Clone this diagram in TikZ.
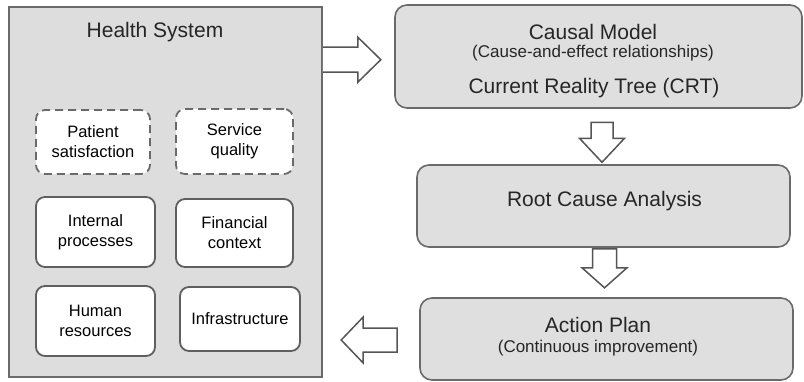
\documentclass[tikz,border=0pt]{standalone}
\usepackage{fontspec}
\setmainfont{Liberation Sans}
\usetikzlibrary{calc}
\definecolor{edgegray}{HTML}{6A6A6A}
\definecolor{bigfill}{HTML}{DDDDDD}
\definecolor{boxfill}{HTML}{DFDFDF}
\definecolor{arrowgray}{HTML}{555555}
\tikzset{
  bigbox/.style={draw=edgegray, line width=1.6pt, fill=bigfill, rectangle, inner sep=0pt},
  stagebox/.style={draw=edgegray, line width=1.6pt, fill=boxfill, rectangle, rounded corners=12pt, inner sep=0pt},
  itembox/.style={draw=edgegray!90!black, line width=1.8pt, fill=white, rectangle, rounded corners=9pt, inner sep=0pt, align=center, font=\fontsize{16.5}{20}\selectfont},
  dashbox/.style={itembox, dashed, dash pattern=on 8pt off 5pt, draw=edgegray},
  bigtext/.style={font=\fontsize{21}{24}\selectfont, inner sep=0pt, text=black!85},
  smalltext/.style={font=\fontsize{17}{20}\selectfont, inner sep=0pt, text=black!85},
  blockarrow/.style={draw=arrowgray, line width=1.5pt, fill=white, line join=miter}
}
\begin{document}
\begin{tikzpicture}[x=1pt,y=-1pt]
\useasboundingbox[fill=white] (0,0) rectangle (804,381);
% Health system
\node[bigbox, minimum width=313pt, minimum height=370pt] (hs) at (165.5,192) {};
\node[bigtext] (hst) at (155,32) {Health System};
\node[dashbox, minimum width=114pt, minimum height=64pt] (ps) at (93,142) {Patient\\satisfaction};
\node[dashbox, minimum width=117pt, minimum height=65pt] (sq) at (234.5,141.5) {Service\\quality};
\node[itembox, minimum width=119pt, minimum height=70pt] (ip) at (95.5,232) {Internal\\processes};
\node[itembox, minimum width=117pt, minimum height=68pt] (fc) at (234.5,233) {Financial\\context};
\node[itembox, minimum width=119pt, minimum height=70pt] (hr) at (95.5,321) {Human\\resources};
\node[itembox, minimum width=120pt, minimum height=64pt] (inf) at (240,319) {Infrastructure};
% Stages
\node[stagebox, minimum width=407pt, minimum height=103pt] (cm) at (598.5,56.5) {};
\node[bigtext] (cm1) at (593,32) {Causal Model};
\node[smalltext] (cm2) at (593,53) {(Cause-and-effect relationships)};
\node[bigtext] (cm3) at (594,88) {Current Reality Tree (CRT)};
\node[stagebox, minimum width=373pt, minimum height=82pt] (rca) at (603.5,206) {};
\node[bigtext] (rcat) at (604.5,201) {Root Cause Analysis};
\node[stagebox, minimum width=373pt, minimum height=82pt] (ap) at (606.5,339) {};
\node[bigtext] (ap1) at (598,325) {Action Plan};
\node[smalltext] (ap2) at (598,348) {(Continuous improvement)};
% Block arrows
% right arrow: health system -> causal model
\draw[blockarrow] ($(hs.north east)+(0,41)$) -- ++(35,0) -- ++(0,-10) -- ++(23,22.5) -- ++(-23,22.5) -- ++(0,-10) -- ++(-35,0);
% down arrow 1: causal model -> root cause analysis
\draw[blockarrow] ($(cm.south)+(-7.5,13.5)$) -- ++(22,0) -- ++(0,16) -- ++(11.5,0) -- ++(-22.5,24) -- ++(-22.5,-24) -- ++(11.5,0) -- cycle;
% down arrow 2: root cause analysis -> action plan
\draw[blockarrow] ($(rca.south)+(-11,1)$) -- ++(24,0) -- ++(0,19) -- ++(10.5,0) -- ++(-22.5,20) -- ++(-22.5,-20) -- ++(10.5,0) -- cycle;
% left arrow: action plan -> health system
\draw[blockarrow] ($(ap.west)+(-22,-11)$) -- ++(-34,0) -- ++(0,-11) -- ++(-22,23) -- ++(22,23) -- ++(0,-11) -- ++(34,0) -- cycle;
\end{tikzpicture}
\end{document}
